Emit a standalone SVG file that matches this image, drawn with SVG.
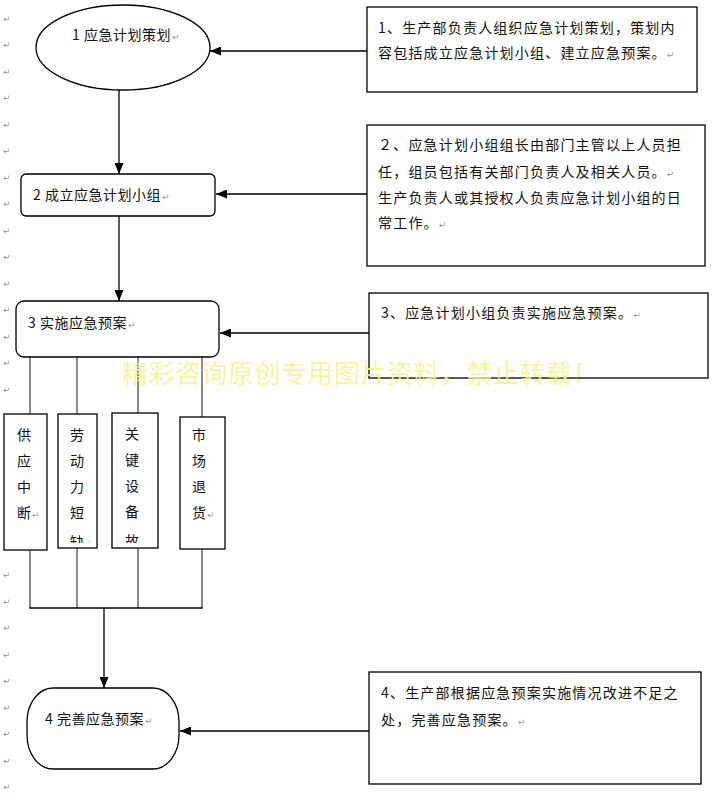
<svg xmlns="http://www.w3.org/2000/svg" width="712" height="793" viewBox="0 0 712 793">
<style>
.t{font-family:"Noto Sans CJK SC","Noto Sans",sans-serif;font-size:14px;fill:#111}
.n{letter-spacing:0.5px}
.r{letter-spacing:1.2px}
.pm{font-family:"DejaVu Sans",sans-serif;font-size:9px;fill:#9a9a9a}
.box{fill:#fff;stroke:#000;stroke-width:1.3}
.ln{stroke:#000;stroke-width:1.3;fill:none}
.gl{stroke:#666;stroke-width:1.5;fill:none}
.wm{font-family:"Noto Sans CJK SC",sans-serif;font-size:26px;fill:#f8f28a;fill-opacity:0.85;letter-spacing:0.5px}
</style>
<defs>
<marker id="ah" markerUnits="userSpaceOnUse" markerWidth="11" markerHeight="9" refX="11" refY="4.5" orient="auto">
<path d="M0,0 L11,4.5 L0,9 z" fill="#000"/>
</marker>
<clipPath id="c1"><rect x="5" y="415" width="41" height="134"/></clipPath>
<clipPath id="c2"><rect x="59" y="415" width="37" height="128"/></clipPath>
<clipPath id="c3"><rect x="113" y="414" width="44" height="129"/></clipPath>
<clipPath id="c4"><rect x="181" y="418" width="43" height="130"/></clipPath>
</defs>
<rect width="712" height="793" fill="#fff"/>
<g id="margin-marks">
<text class="pm" x="3" y="22">↵</text><text class="pm" x="3" y="48">↵</text><text class="pm" x="3" y="75">↵</text><text class="pm" x="3" y="101">↵</text><text class="pm" x="3" y="128">↵</text><text class="pm" x="3" y="154">↵</text><text class="pm" x="3" y="181">↵</text><text class="pm" x="3" y="207">↵</text><text class="pm" x="3" y="234">↵</text><text class="pm" x="3" y="260">↵</text><text class="pm" x="3" y="287">↵</text><text class="pm" x="3" y="313">↵</text><text class="pm" x="3" y="340">↵</text><text class="pm" x="3" y="366">↵</text><text class="pm" x="3" y="393">↵</text><text class="pm" x="3" y="578">↵</text><text class="pm" x="3" y="605">↵</text><text class="pm" x="3" y="631">↵</text><text class="pm" x="3" y="658">↵</text><text class="pm" x="3" y="684">↵</text><text class="pm" x="3" y="711">↵</text><text class="pm" x="3" y="737">↵</text><text class="pm" x="3" y="764">↵</text><text class="pm" x="3" y="790">↵</text>
</g>
<g id="connectors">
<line class="ln" x1="367" y1="51" x2="210" y2="51" marker-end="url(#ah)"/>
<line class="ln" x1="119" y1="90" x2="119" y2="174" marker-end="url(#ah)"/>
<line class="ln" x1="367" y1="194" x2="216" y2="194" marker-end="url(#ah)"/>
<line class="ln" x1="119" y1="216" x2="119" y2="301" marker-end="url(#ah)"/>
<line class="ln" x1="369" y1="333" x2="220" y2="333" marker-end="url(#ah)"/>
<line class="gl" x1="30" y1="357" x2="30" y2="414"/>
<line class="gl" x1="77" y1="357" x2="77" y2="414"/>
<line class="gl" x1="138" y1="357" x2="138" y2="413"/>
<line class="gl" x1="202" y1="357" x2="202" y2="417"/>
<line class="gl" x1="30" y1="550" x2="30" y2="608"/>
<line class="gl" x1="77" y1="548" x2="77" y2="608"/>
<line class="gl" x1="138" y1="548" x2="138" y2="608"/>
<line class="gl" x1="202" y1="549" x2="202" y2="608"/>
<line class="ln" x1="29.3" y1="608" x2="202.7" y2="608"/>
<line class="ln" x1="104" y1="608" x2="104" y2="688" marker-end="url(#ah)"/>
<line class="ln" x1="369" y1="731" x2="180" y2="731" marker-end="url(#ah)"/>
</g>
<g id="node1">
<ellipse class="box" cx="123" cy="47.5" rx="87" ry="42.5"/>
<text class="t n" x="72" y="40">1 应急计划策划<tspan class="pm" dx="1">↵</tspan></text>
</g>
<g id="node2">
<rect class="box" x="21" y="174" width="194" height="42" rx="5"/>
<text class="t n" x="33" y="200">2 成立应急计划小组<tspan class="pm" dx="1">↵</tspan></text>
</g>
<g id="node3">
<rect class="box" x="16" y="301" width="203" height="56" rx="8"/>
<text class="t n" x="28" y="328">3 实施应急预案<tspan class="pm" dx="1">↵</tspan></text>
</g>
<g id="node4">
<rect class="box" x="27" y="688" width="152" height="81" rx="26" ry="34"/>
<text class="t n" x="45" y="724">4 完善应急预案<tspan class="pm" dx="1">↵</tspan></text>
</g>
<g id="note1">
<rect class="box" x="367" y="7" width="330" height="85"/>
<text class="t r" x="378" y="33">1、生产部负责人组织应急计划策划，策划内</text>
<text class="t r" x="378" y="58">容包括成立应急计划小组、建立应急预案。<tspan class="pm">↵</tspan></text>
</g>
<g id="note2">
<rect class="box" x="367" y="125" width="338" height="141"/>
<text class="t r" x="378" y="150">２、应急计划小组组长由部门主管以上人员担</text>
<text class="t r" x="378" y="177">任，组员包括有关部门负责人及相关人员。<tspan class="pm">↵</tspan></text>
<text class="t r" x="378" y="203">生产负责人或其授权人负责应急计划小组的日</text>
<text class="t r" x="378" y="228">常工作。<tspan class="pm">↵</tspan></text>
</g>
<g id="note3">
<rect class="box" x="369" y="293" width="339" height="85"/>
<text class="t r" x="381" y="318">3、应急计划小组负责实施应急预案。<tspan class="pm">↵</tspan></text>
</g>
<g id="note4">
<rect class="box" x="369" y="672" width="332" height="112"/>
<text class="t r" x="381" y="698">4、生产部根据应急预案实施情况改进不足之</text>
<text class="t r" x="381" y="725">处，完善应急预案。<tspan class="pm">↵</tspan></text>
</g>
<g id="risk-supply">
<rect class="box" x="4" y="414" width="43" height="136"/>
<g clip-path="url(#c1)">
<text class="t" x="17" y="440">供</text><text class="t" x="17" y="466">应</text><text class="t" x="17" y="492">中</text><text class="t" x="17" y="518">断<tspan class="pm" dx="1">↵</tspan></text>
</g>
</g>
<g id="risk-labor">
<rect class="box" x="58" y="414" width="39" height="134"/>
<g clip-path="url(#c2)">
<text class="t" x="70" y="440">劳</text><text class="t" x="70" y="466">动</text><text class="t" x="70" y="492">力</text><text class="t" x="70" y="518">短</text><text class="t" x="70" y="547">缺<tspan class="pm">↵</tspan></text>
</g>
</g>
<g id="risk-equipment">
<rect class="box" x="112" y="413" width="46" height="135"/>
<g clip-path="url(#c3)">
<text class="t" x="125" y="439">关</text><text class="t" x="125" y="465">键</text><text class="t" x="125" y="491">设</text><text class="t" x="125" y="517">备</text><text class="t" x="125" y="546">故</text>
</g>
</g>
<g id="risk-return">
<rect class="box" x="180" y="417" width="45" height="132"/>
<g clip-path="url(#c4)">
<text class="t" x="192" y="440">市</text><text class="t" x="192" y="466">场</text><text class="t" x="192" y="492">退</text><text class="t" x="192" y="518">货<tspan class="pm" dx="1">↵</tspan></text>
</g>
</g>
<text class="wm" x="122" y="383">精彩咨询原创专用图片资料，禁止转载！</text>
</svg>
